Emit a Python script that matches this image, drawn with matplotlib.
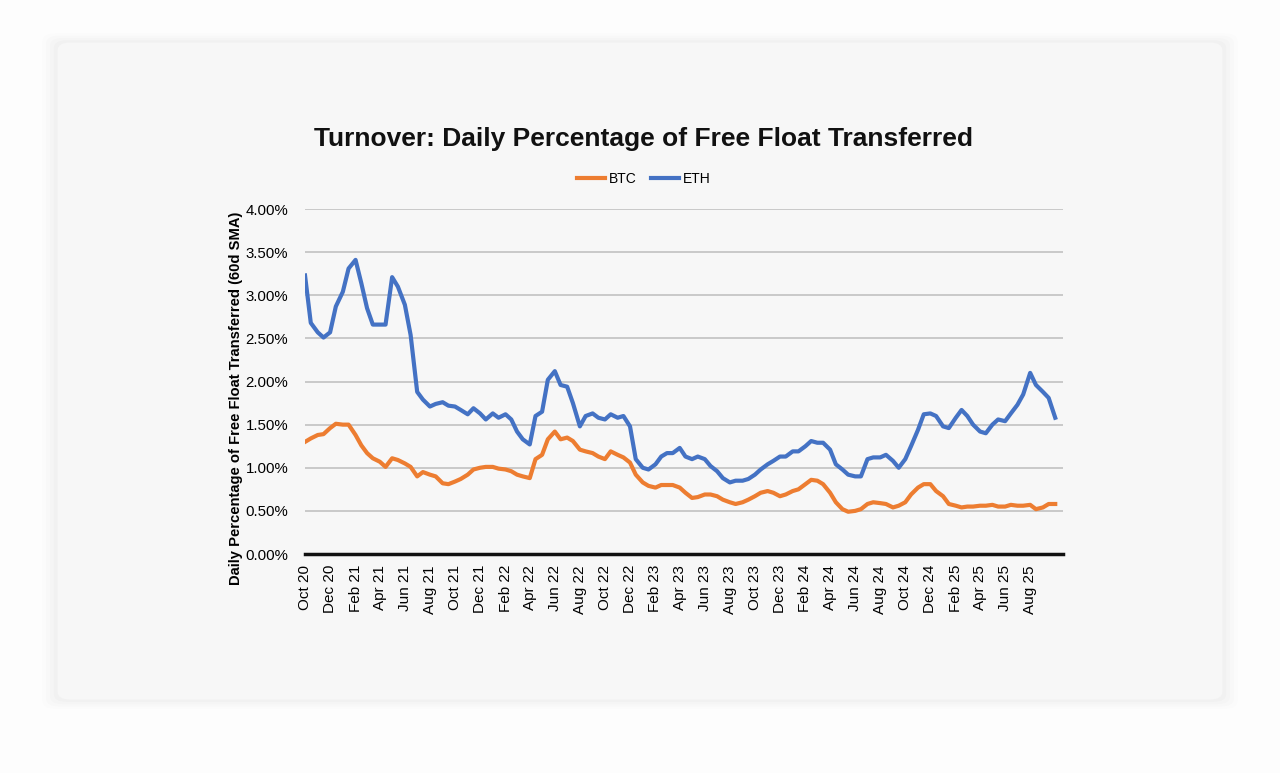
import matplotlib
matplotlib.use("Agg")
import matplotlib.pyplot as plt
from matplotlib.patches import FancyBboxPatch
from matplotlib.ticker import FuncFormatter
import pandas as pd

# Semi-monthly sample dates (1st and 15th), Oct 2020 - Oct 2025
dates = pd.date_range("2020-10-01", periods=121, freq="SMS")

btc = [1.30, 1.34, 1.38, 1.39, 1.46, 1.51, 1.50, 1.50, 1.38, 1.26,
       1.17, 1.11, 1.07, 1.01, 1.11, 1.09, 1.05, 1.01, 0.90, 0.95,
       0.92, 0.90, 0.82, 0.81, 0.84, 0.87, 0.92, 0.98, 1.00, 1.01,
       1.01, 0.99, 0.98, 0.96, 0.92, 0.90, 0.88, 1.10, 1.15, 1.33,
       1.42, 1.33, 1.35, 1.31, 1.21, 1.19, 1.17, 1.13, 1.10, 1.19,
       1.15, 1.12, 1.06, 0.92, 0.83, 0.79, 0.77, 0.80, 0.80, 0.80,
       0.77, 0.71, 0.65, 0.66, 0.69, 0.69, 0.67, 0.63, 0.60, 0.58,
       0.60, 0.63, 0.67, 0.71, 0.73, 0.71, 0.67, 0.69, 0.73, 0.75,
       0.81, 0.86, 0.85, 0.81, 0.71, 0.60, 0.52, 0.49, 0.50, 0.52,
       0.58, 0.60, 0.59, 0.58, 0.54, 0.56, 0.60, 0.69, 0.77, 0.81,
       0.81, 0.73, 0.67, 0.58, 0.56, 0.54, 0.55, 0.55, 0.56, 0.56,
       0.57, 0.55, 0.55, 0.57, 0.56, 0.56, 0.57, 0.52, 0.54, 0.58,
       0.58]

eth = [3.23, 2.68, 2.57, 2.51, 2.57, 2.87, 3.04, 3.31, 3.41, 3.14,
       2.85, 2.66, 2.66, 2.66, 3.21, 3.10, 2.89, 2.54, 1.88, 1.79,
       1.71, 1.74, 1.76, 1.72, 1.71, 1.67, 1.62, 1.69, 1.63, 1.56,
       1.63, 1.58, 1.62, 1.56, 1.42, 1.33, 1.27, 1.60, 1.65, 2.02,
       2.12, 1.96, 1.94, 1.75, 1.48, 1.60, 1.63, 1.58, 1.56, 1.62,
       1.58, 1.60, 1.48, 1.10, 1.00, 0.98, 1.04, 1.13, 1.17, 1.17,
       1.23, 1.13, 1.10, 1.13, 1.10, 1.02, 0.96, 0.88, 0.83, 0.85,
       0.85, 0.87, 0.92, 0.98, 1.04, 1.08, 1.13, 1.13, 1.19, 1.19,
       1.25, 1.31, 1.29, 1.29, 1.21, 1.04, 0.98, 0.92, 0.90, 0.90,
       1.10, 1.12, 1.12, 1.15, 1.08, 1.00, 1.10, 1.25, 1.44, 1.62,
       1.63, 1.60, 1.48, 1.46, 1.58, 1.67, 1.60, 1.50, 1.42, 1.40,
       1.50, 1.56, 1.54, 1.63, 1.73, 1.85, 2.10, 1.96, 1.88, 1.81,
       1.58]

tick_dates = pd.date_range("2020-10-01", "2025-08-01", freq="2MS")
y_ticks = [0.0, 0.5, 1.0, 1.5, 2.0, 2.5, 3.0, 3.5, 4.0]

title = "Turnover: Daily Percentage of Free Float Transferred"
ylabel = "Daily Percentage of Free Float Transferred (60d SMA)"

plt.rcParams['font.family'] = ['Liberation Sans', 'DejaVu Sans']

fig = plt.figure(figsize=(12.8, 7.73), dpi=100)
fig.patch.set_facecolor("#fdfdfd")

# card with soft shadow
for i, a in enumerate([0.008, 0.010, 0.012, 0.015]):
    pad = 0.012 - i * 0.003
    shadow = FancyBboxPatch((0.045 - pad, 0.095 - pad), 0.91 + 2 * pad, 0.85 + 2 * pad,
                            boxstyle="round,pad=0,rounding_size=0.01",
                            transform=fig.transFigure, facecolor="#000000",
                            alpha=a, edgecolor="none", zorder=-3)
    fig.patches.append(shadow)
card = FancyBboxPatch((0.045, 0.095), 0.91, 0.85,
                      boxstyle="round,pad=0,rounding_size=0.01",
                      transform=fig.transFigure, facecolor="#f7f7f7",
                      edgecolor="none", zorder=-2)
fig.patches.append(card)

ax = fig.add_axes([0.2383, 0.2833, 0.5922, 0.4463])
ax.set_zorder(2)
ax.set_facecolor("none")

ax.plot(dates, btc, color="#ED7D31", lw=3.0, label="BTC", solid_joinstyle="round")
ax.plot(dates, eth, color="#4472C4", lw=3.0, label="ETH", solid_joinstyle="round")

ax.set_ylim(0, 4.0)
ax.set_xlim(dates[0], pd.Timestamp("2025-10-20"))
ax.set_yticks(y_ticks)
ax.yaxis.set_major_formatter(FuncFormatter(lambda v, p: f"{v:.2f}%"))
ax.set_xticks(tick_dates)
ax.set_xticklabels([d.strftime("%b %y") for d in tick_dates], rotation=90, fontsize=11)
ax.tick_params(axis="y", labelsize=10.8, length=0, pad=12)
ax.tick_params(axis="x", length=0, pad=8)

ax.grid(axis="y", color="#c9c9c9", lw=1.4)
ax.set_axisbelow(True)
for s in ["top", "right", "left"]:
    ax.spines[s].set_visible(False)
ax.spines["bottom"].set_color("#111111")
ax.spines["bottom"].set_linewidth(2.5)

ax.set_ylabel(ylabel, fontsize=10.6, fontweight="bold")
ax.yaxis.set_label_coords(-0.082, 0.452)

fig.text(0.503, 0.82, title, ha="center", va="center", fontsize=19, fontweight="bold", color="#111111")
leg = fig.legend(loc="center", bbox_to_anchor=(0.503, 0.769), ncol=2, frameon=False,
                 fontsize=10, handlelength=2.0, handletextpad=0.3, columnspacing=1.0)

fig.savefig("out.png", dpi=100, facecolor=fig.get_facecolor())
